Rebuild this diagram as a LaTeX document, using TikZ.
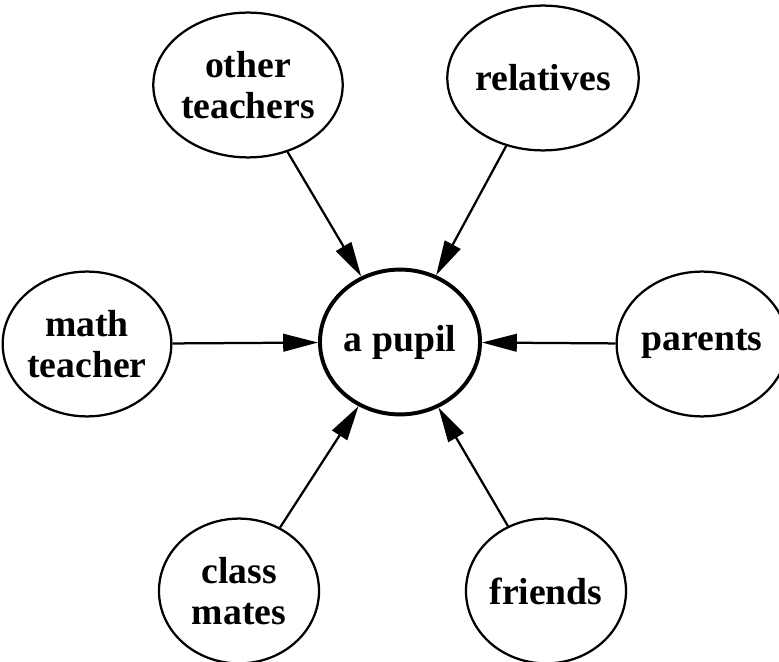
\documentclass[tikz,border=0pt]{standalone}
\usepackage{fontspec}
\setmainfont{Liberation Serif}
\usepackage{tikz}
\usetikzlibrary{shapes.geometric,arrows.meta,positioning}

\begin{document}
\begin{tikzpicture}[
  x=0.025cm, y=-0.025cm,
  font=\fontsize{26.8}{29.5}\selectfont\bfseries,
  person/.style={ellipse, draw, line width=1.6pt, align=center,
                 minimum width=4cm, minimum height=3.62cm, inner sep=0pt},
  pupil/.style={person, line width=2.8pt},
  infl/.style={draw, line width=1.6pt,
               -{Triangle[length=0.87cm, width=0.44cm]}},
]
\useasboundingbox (0,0) rectangle (779,662);

% Centre
\node[pupil] (pupil) at (400,342) {a pupil};

% Surrounding people
\node[person] (oteach) at (248, 85) {other\\teachers};
\node[person] (relat)  at (543, 78) {relatives};
\node[person] (mteach) at ( 87,344) {math\\teacher};
\node[person] (parent) at (702,344) {parents};
\node[person] (cmates) at (239,591) {class\\mates};
\node[person] (friend) at (546,591) {friends};

% Edges
\draw[infl] (oteach) -- (pupil);
\draw[infl] (relat)  -- (pupil);
\draw[infl] (mteach) -- (pupil);
\draw[infl] (parent) -- (pupil);
\draw[infl] (cmates) -- (pupil);
\draw[infl] (friend) -- (pupil);

\end{tikzpicture}
\end{document}
